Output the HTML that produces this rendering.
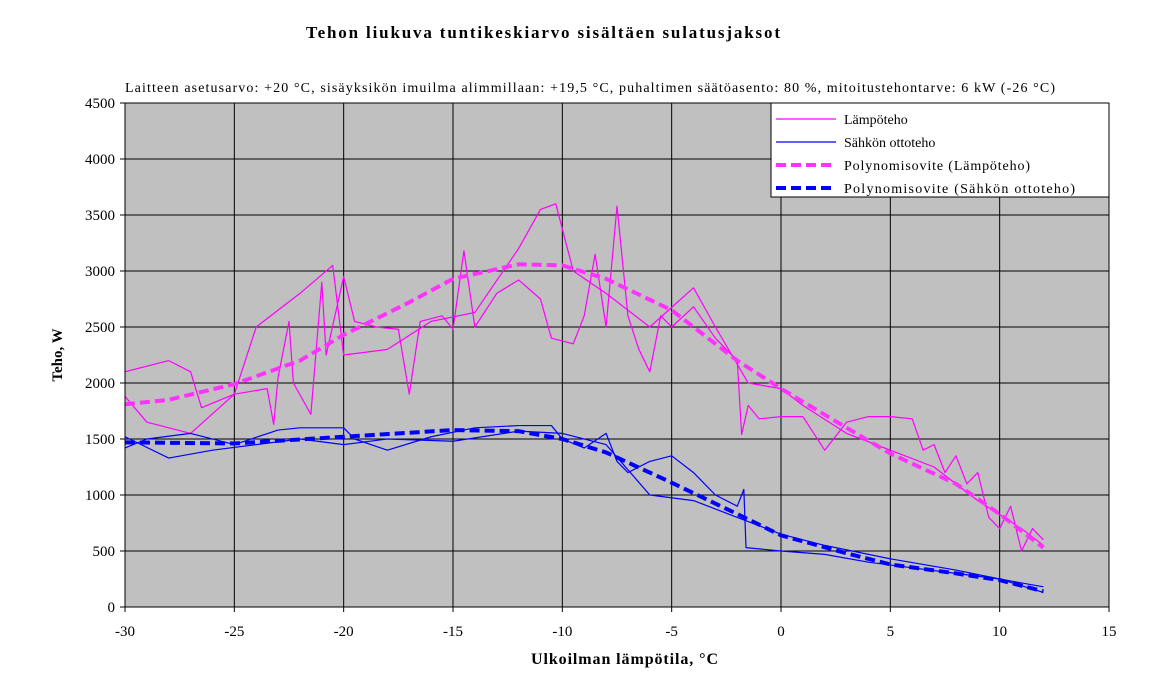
<!DOCTYPE html>
<html><head><meta charset="utf-8"><style>
body{margin:0;background:#fff;width:1158px;height:679px;overflow:hidden}
svg{display:block}
text{font-family:"Liberation Serif",serif;fill:#000}
</style></head><body>
<svg id="s" width="1158" height="679" xmlns="http://www.w3.org/2000/svg">
<rect x="125" y="103" width="984" height="504" fill="#C0C0C0"/>
<g id="grid"></g>
<g id="series"></g>
<rect x="125" y="103" width="984" height="504" fill="none" stroke="#000" stroke-width="1"/>
<text x="306" y="38" font-size="17" font-weight="bold" textLength="474" lengthAdjust="spacing">Tehon liukuva  tuntikeskiarvo  sisältäen  sulatusjaksot</text>
<text x="125" y="92" font-size="14" textLength="930" lengthAdjust="spacing">Laitteen asetusarvo: +20 °C, sisäyksikön imuilma  alimmillaan:  +19,5 °C, puhaltimen  säätöasento:  80 %, mitoitustehontarve:  6 kW (-26 °C)</text>
<text transform="translate(62,355) rotate(-90)" font-size="15" font-weight="bold" text-anchor="middle">Teho, W</text>
<text x="531" y="664" font-size="16" font-weight="bold" textLength="187" lengthAdjust="spacing">Ulkoilman  lämpötila,  °C</text>
<rect x="771" y="103" width="338" height="94" fill="#fff" stroke="#000"/>
<line x1="776" y1="119" x2="836" y2="119" stroke="#FF00FF" stroke-width="1.3"/>
<line x1="776" y1="142" x2="836" y2="142" stroke="#0000FF" stroke-width="1.3"/>
<line x1="776" y1="165" x2="836" y2="165" stroke="#FF33FF" stroke-width="4" stroke-dasharray="10,5"/>
<line x1="776" y1="188" x2="836" y2="188" stroke="#0000FF" stroke-width="4" stroke-dasharray="10,5"/>
<text x="844" y="124" font-size="14">Lämpöteho</text>
<text x="844" y="147" font-size="14">Sähkön ottoteho</text>
<text x="844" y="170" font-size="14" textLength="186" lengthAdjust="spacing">Polynomisovite (Lämpöteho)</text>
<text x="844" y="193" font-size="14" textLength="231" lengthAdjust="spacing">Polynomisovite (Sähkön ottoteho)</text>
</svg>
<script>
const X=t=>125+(t+30)*984/45, Y=v=>607-v*504/4500, NS="http://www.w3.org/2000/svg";
const g=document.getElementById('grid'),s=document.getElementById('s'),se=document.getElementById('series');
function el(p,tag,a,txt){const e=document.createElementNS(NS,tag);for(const k in a)e.setAttribute(k,a[k]);if(txt!=null)e.textContent=txt;p.appendChild(e);return e;}
for(let v=0;v<=4500;v+=500){const y=Y(v);if(v>0&&v<4500)el(g,'line',{x1:125,x2:1109,y1:y,y2:y,stroke:'#000','stroke-width':1});
 el(g,'line',{x1:120,x2:125,y1:y,y2:y,stroke:'#000'});el(s,'text',{x:115,y:y+5,'font-size':15,'text-anchor':'end'},v);}
for(let t=-30;t<=15;t+=5){const x=X(t);if(t>-30&&t<15)el(g,'line',{x1:x,x2:x,y1:103,y2:607,stroke:'#000','stroke-width':1});
 el(g,'line',{x1:x,x2:x,y1:607,y2:612,stroke:'#000'});el(s,'text',{x:x,y:636,'font-size':15,'text-anchor':'middle'},t);}
function pl(pts,c,w,d){el(se,'polyline',{points:pts.map(p=>X(p[0])+','+Y(p[1])).join(' '),fill:'none',stroke:c,'stroke-width':w,'stroke-dasharray':d||'none','stroke-linejoin':'round'});}
const m1=[[-30,2100],[-28,2200],[-27,2100],[-26.5,1780],[-25,1900],[-23.5,1950],[-23.2,1630],[-23,2050],[-22.5,2550],[-22.3,2000],[-21.5,1720],[-21,2900],[-20.8,2250],[-20,2950],[-19.5,2550],[-18.5,2500],[-17.5,2480],[-17,1900],[-16.5,2550],[-15.5,2600],[-15,2480],[-14.5,3180],[-14,2500],[-13,2800],[-12,2920],[-11,2750],[-10.5,2400],[-9.5,2350],[-9,2600],[-8.5,3150],[-8,2500],[-7.5,3580],[-7,2600],[-6.5,2300],[-6,2100],[-5.5,2600],[-5,2500],[-4,2680],[-3,2400],[-2,2200],[-1.8,1540],[-1.5,1800],[-1,1680],[0,1700],[1,1700],[2,1400],[3,1650],[4,1700],[5,1700],[6,1680],[6.5,1400],[7,1450],[7.5,1200],[8,1350],[8.5,1100],[9,1200],[9.5,800],[10,700],[10.5,900],[11,500],[11.5,700],[12,600]];
const m2=[[-30,1880],[-29,1650],[-27,1550],[-25,1900],[-24,2500],[-22,2800],[-20.5,3050],[-20,2250],[-18,2300],[-16,2550],[-14,2630],[-12,3200],[-11,3550],[-10.3,3600],[-9.5,3000],[-8,2800],[-6,2500],[-4,2850],[-3,2500],[-1.5,2000],[0,1950],[1,1800],[3,1550],[5,1400],[7,1250],[9,950],[11,700],[12,550]];
const b1=[[-30,1420],[-29,1500],[-27,1550],[-25,1450],[-23,1580],[-22,1600],[-20,1600],[-19.5,1500],[-18,1400],[-16,1520],[-14,1600],[-12,1620],[-10.5,1620],[-10,1500],[-9,1420],[-8,1550],[-7.5,1300],[-7,1200],[-6,1300],[-5,1350],[-4,1200],[-3,1000],[-2,900],[-1.7,1050],[-1.6,530],[0,500],[2,470],[4,400],[6,350],[8,300],[10,250],[12,180]];
const b2=[[-30,1520],[-28,1330],[-26,1400],[-24,1450],[-22,1500],[-20,1450],[-18,1500],[-15,1480],[-12,1570],[-10,1550],[-8,1450],[-6,1000],[-4,950],[-2,800],[0,650],[2,550],[5,430],[8,330],[10,250],[12,130]];
pl(m1,'#FF00FF',1.2);pl(m2,'#FF00FF',1.2);pl(b1,'#0000FF',1.2);pl(b2,'#0000FF',1.2);
const pm=[[-30,1810],[-28,1850],[-25,1990],[-22,2200],[-20,2430],[-17,2720],[-15,2930],[-12,3060],[-10,3050],[-8,2930],[-5,2650],[-2,2200],[0,1950],[3,1600],[5,1370],[8,1100],[10,830],[12,530]];
const pb=[[-30,1470],[-25,1460],[-20,1520],[-15,1580],[-12,1570],[-10,1500],[-8,1380],[-5,1110],[-2,830],[0,640],[3,480],[5,380],[8,300],[10,240],[12,140]];
pl(pm,'#FF33FF',4,'10,5');pl(pb,'#0000FF',4,'10,5');
</script>
</body></html>
